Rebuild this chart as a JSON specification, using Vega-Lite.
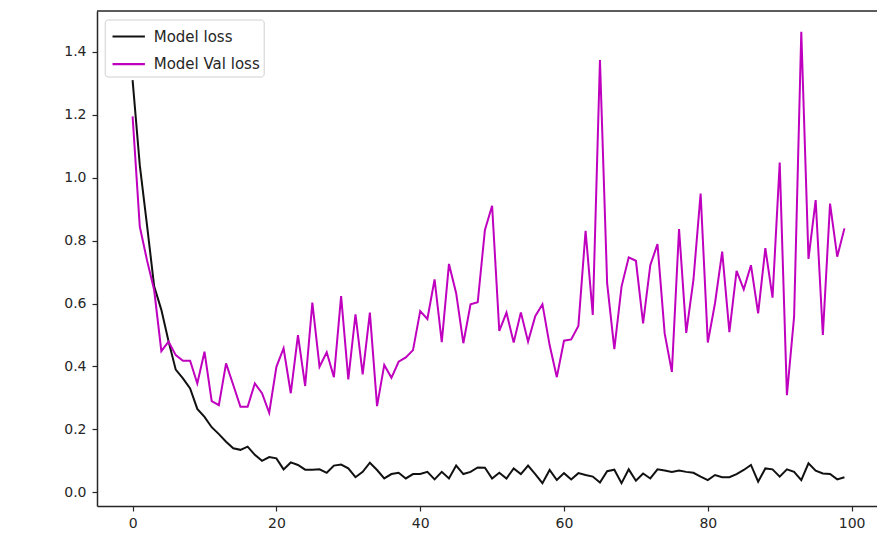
{
  "$schema": "https://vega.github.io/schema/vega-lite/v6.json",
  "width": 780,
  "height": 495,
  "autosize": {"type": "none"},
  "padding": {"left": 97, "top": 11, "right": 0, "bottom": 38},
  "background": "white",
  "config": {"view": {"stroke": null}, "font": "DejaVu Sans"},
  "data": {"values": [
    {"epoch":0,"loss":1.31,"val_loss":1.195},
    {"epoch":1,"loss":1.04,"val_loss":0.845},
    {"epoch":2,"loss":0.85,"val_loss":0.738},
    {"epoch":3,"loss":0.655,"val_loss":0.643},
    {"epoch":4,"loss":0.58,"val_loss":0.449},
    {"epoch":5,"loss":0.48,"val_loss":0.479},
    {"epoch":6,"loss":0.39,"val_loss":0.436},
    {"epoch":7,"loss":0.362,"val_loss":0.418},
    {"epoch":8,"loss":0.33,"val_loss":0.418},
    {"epoch":9,"loss":0.265,"val_loss":0.346},
    {"epoch":10,"loss":0.24,"val_loss":0.447},
    {"epoch":11,"loss":0.207,"val_loss":0.29},
    {"epoch":12,"loss":0.185,"val_loss":0.277},
    {"epoch":13,"loss":0.161,"val_loss":0.41},
    {"epoch":14,"loss":0.14,"val_loss":0.341},
    {"epoch":15,"loss":0.135,"val_loss":0.272},
    {"epoch":16,"loss":0.145,"val_loss":0.272},
    {"epoch":17,"loss":0.119,"val_loss":0.346},
    {"epoch":18,"loss":0.1,"val_loss":0.315},
    {"epoch":19,"loss":0.112,"val_loss":0.253},
    {"epoch":20,"loss":0.108,"val_loss":0.399},
    {"epoch":21,"loss":0.073,"val_loss":0.458},
    {"epoch":22,"loss":0.095,"val_loss":0.315},
    {"epoch":23,"loss":0.087,"val_loss":0.5},
    {"epoch":24,"loss":0.072,"val_loss":0.338},
    {"epoch":25,"loss":0.072,"val_loss":0.603},
    {"epoch":26,"loss":0.073,"val_loss":0.399},
    {"epoch":27,"loss":0.062,"val_loss":0.445},
    {"epoch":28,"loss":0.085,"val_loss":0.366},
    {"epoch":29,"loss":0.088,"val_loss":0.624},
    {"epoch":30,"loss":0.076,"val_loss":0.359},
    {"epoch":31,"loss":0.048,"val_loss":0.566},
    {"epoch":32,"loss":0.065,"val_loss":0.375},
    {"epoch":33,"loss":0.094,"val_loss":0.571},
    {"epoch":34,"loss":0.071,"val_loss":0.274},
    {"epoch":35,"loss":0.044,"val_loss":0.405},
    {"epoch":36,"loss":0.058,"val_loss":0.364},
    {"epoch":37,"loss":0.062,"val_loss":0.415},
    {"epoch":38,"loss":0.044,"val_loss":0.429},
    {"epoch":39,"loss":0.058,"val_loss":0.452},
    {"epoch":40,"loss":0.058,"val_loss":0.576},
    {"epoch":41,"loss":0.065,"val_loss":0.551},
    {"epoch":42,"loss":0.041,"val_loss":0.677},
    {"epoch":43,"loss":0.065,"val_loss":0.477},
    {"epoch":44,"loss":0.044,"val_loss":0.726},
    {"epoch":45,"loss":0.085,"val_loss":0.633},
    {"epoch":46,"loss":0.058,"val_loss":0.474},
    {"epoch":47,"loss":0.065,"val_loss":0.598},
    {"epoch":48,"loss":0.079,"val_loss":0.604},
    {"epoch":49,"loss":0.078,"val_loss":0.834},
    {"epoch":50,"loss":0.044,"val_loss":0.911},
    {"epoch":51,"loss":0.062,"val_loss":0.513},
    {"epoch":52,"loss":0.044,"val_loss":0.571},
    {"epoch":53,"loss":0.076,"val_loss":0.476},
    {"epoch":54,"loss":0.058,"val_loss":0.572},
    {"epoch":55,"loss":0.085,"val_loss":0.479},
    {"epoch":56,"loss":0.058,"val_loss":0.56},
    {"epoch":57,"loss":0.029,"val_loss":0.598},
    {"epoch":58,"loss":0.071,"val_loss":0.468},
    {"epoch":59,"loss":0.039,"val_loss":0.366},
    {"epoch":60,"loss":0.061,"val_loss":0.482},
    {"epoch":61,"loss":0.041,"val_loss":0.486},
    {"epoch":62,"loss":0.061,"val_loss":0.529},
    {"epoch":63,"loss":0.055,"val_loss":0.831},
    {"epoch":64,"loss":0.05,"val_loss":0.564},
    {"epoch":65,"loss":0.031,"val_loss":1.374},
    {"epoch":66,"loss":0.067,"val_loss":0.664},
    {"epoch":67,"loss":0.072,"val_loss":0.455},
    {"epoch":68,"loss":0.029,"val_loss":0.654},
    {"epoch":69,"loss":0.073,"val_loss":0.747},
    {"epoch":70,"loss":0.037,"val_loss":0.736},
    {"epoch":71,"loss":0.06,"val_loss":0.537},
    {"epoch":72,"loss":0.044,"val_loss":0.722},
    {"epoch":73,"loss":0.073,"val_loss":0.789},
    {"epoch":74,"loss":0.069,"val_loss":0.505},
    {"epoch":75,"loss":0.065,"val_loss":0.383},
    {"epoch":76,"loss":0.069,"val_loss":0.837},
    {"epoch":77,"loss":0.065,"val_loss":0.507},
    {"epoch":78,"loss":0.062,"val_loss":0.675},
    {"epoch":79,"loss":0.05,"val_loss":0.95},
    {"epoch":80,"loss":0.039,"val_loss":0.476},
    {"epoch":81,"loss":0.055,"val_loss":0.601},
    {"epoch":82,"loss":0.048,"val_loss":0.765},
    {"epoch":83,"loss":0.048,"val_loss":0.509},
    {"epoch":84,"loss":0.058,"val_loss":0.704},
    {"epoch":85,"loss":0.071,"val_loss":0.645},
    {"epoch":86,"loss":0.087,"val_loss":0.722},
    {"epoch":87,"loss":0.034,"val_loss":0.569},
    {"epoch":88,"loss":0.076,"val_loss":0.776},
    {"epoch":89,"loss":0.073,"val_loss":0.619},
    {"epoch":90,"loss":0.05,"val_loss":1.048},
    {"epoch":91,"loss":0.073,"val_loss":0.309},
    {"epoch":92,"loss":0.065,"val_loss":0.558},
    {"epoch":93,"loss":0.039,"val_loss":1.464},
    {"epoch":94,"loss":0.092,"val_loss":0.742},
    {"epoch":95,"loss":0.069,"val_loss":0.929},
    {"epoch":96,"loss":0.06,"val_loss":0.5},
    {"epoch":97,"loss":0.058,"val_loss":0.918},
    {"epoch":98,"loss":0.041,"val_loss":0.749},
    {"epoch":99,"loss":0.048,"val_loss":0.839}
  ]},
  "transform": [{"fold": ["loss", "val_loss"], "as": ["series", "value"]}],
  "encoding": {
    "x": {
      "field": "epoch", "type": "quantitative",
      "scale": {"domain": [-4.95, 103.53], "nice": false, "zero": false},
      "axis": {
        "values": [0, 20, 40, 60, 80, 100], "grid": false, "title": null,
        "domainColor": "#262626", "domainWidth": 1.5,
        "tickColor": "#262626", "tickSize": 5, "tickWidth": 1.2,
        "labelFont": "DejaVu Sans", "labelFontSize": 14, "labelColor": "#262626", "labelPadding": 5
      }
    },
    "y": {
      "field": "value", "type": "quantitative",
      "scale": {"domain": [-0.0435, 1.53], "nice": false, "zero": false},
      "axis": {
        "values": [0, 0.2, 0.4, 0.6, 0.8, 1.0, 1.2, 1.4], "format": ".1f", "grid": false, "title": null,
        "domainColor": "#262626", "domainWidth": 1.5,
        "tickColor": "#262626", "tickSize": 5, "tickWidth": 1.2,
        "labelFont": "DejaVu Sans", "labelFontSize": 14, "labelColor": "#262626", "labelPadding": 6
      }
    },
    "color": {
      "field": "series", "type": "nominal",
      "scale": {"domain": ["loss", "val_loss"], "range": ["#111111", "#bf00bf"]},
      "legend": {
        "orient": "none", "legendX": 7.7, "legendY": 8.5, "title": null,
        "labelExpr": "datum.value === 'loss' ? 'Model loss' : 'Model Val loss'",
        "symbolType": "M-1.35,0H1.35", "symbolSize": 576, "symbolStrokeWidth": 2.2,
        "labelFont": "DejaVu Sans", "labelFontSize": 15, "labelColor": "#262626", "labelOffset": 11.5,
        "fillColor": "rgba(255,255,255,0.8)", "strokeColor": "#d0d0d0", "cornerRadius": 3,
        "padding": 3.5, "rowPadding": 5.6, "symbolOffset": 7
      }
    }
  },
  "layer": [
    {
      "transform": [{"filter": "datum.series === 'loss'"}],
      "mark": {"type": "line", "strokeWidth": 2, "clip": true}
    },
    {
      "transform": [{"filter": "datum.series === 'val_loss'"}],
      "mark": {"type": "line", "strokeWidth": 2, "clip": true}
    },
    {
      "data": {"values": [{"top": 1.53}]},
      "transform": [],
      "mark": {"type": "rule", "color": "#262626", "strokeWidth": 1.5},
      "encoding": {
        "y": {"field": "top", "type": "quantitative"},
        "color": null,
        "x": null
      }
    }
  ]
}
